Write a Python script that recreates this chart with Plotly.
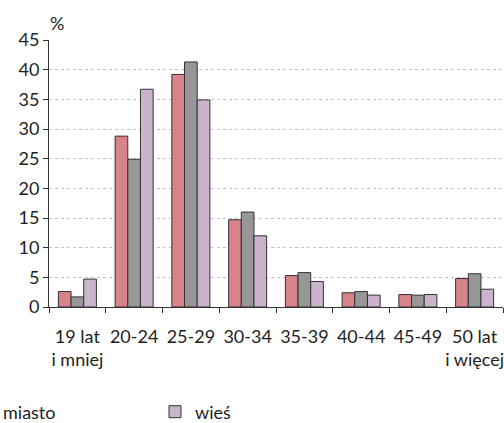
import plotly.graph_objects as go

categories = ["19 lat<br>i mniej", "20-24", "25-29", "30-34", "35-39", "40-44", "45-49", "50 lat<br>i więcej"]
series_names = ["ogółem", "miasto", "wieś"]
ogolem = [2.6, 28.8, 39.2, 14.7, 5.3, 2.4, 2.1, 4.8]
miasto = [1.7, 24.9, 41.3, 16.0, 5.8, 2.6, 2.0, 5.6]
wies = [4.7, 36.7, 34.9, 12.0, 4.3, 2.0, 2.1, 3.0]
y_ticks = [0, 5, 10, 15, 20, 25, 30, 35, 40, 45]

colors = ["#D8828A", "#979797", "#CCB3CD"]
legend_ids = ["legend", "legend2", "legend3"]
font = "Lato, 'Open Sans', sans-serif"
fs = 18

fig = go.Figure()
for name, vals, col, lg in zip(series_names, [ogolem, miasto, wies], colors, legend_ids):
    fig.add_trace(go.Bar(
        x=categories, y=vals, name=name, legend=lg,
        marker=dict(color=col, line=dict(color="#333333", width=1)),
    ))

PL, PW, PB, PH = 49, 454, 307, 267
def px_x(v):
    return (v - PL) / PW
def px_y(v):
    return (PB - v) / PH

leg_common = dict(orientation="h", xanchor="left", yanchor="middle", y=px_y(412),
                  font=dict(size=fs, family=font, color="#1E1E1E"),
                  bgcolor="rgba(0,0,0,0)")

fig.update_layout(
    width=504, height=423,
    margin=dict(l=PL, r=1, t=40, b=116, autoexpand=False),
    paper_bgcolor="white", plot_bgcolor="white",
    barmode="group", bargap=0.33, bargroupgap=0,
    font=dict(family=font, size=fs, color="#1E1E1E"),
    showlegend=True,
    legend=dict(x=px_x(-260), **leg_common),
    legend2=dict(x=px_x(-37), **leg_common),
    legend3=dict(x=px_x(155), **leg_common),
    annotations=[dict(text="%", x=px_x(57), y=px_y(23), xref="paper", yref="paper",
                      showarrow=False, xanchor="center", yanchor="middle",
                      font=dict(size=fs, family=font, color="#1E1E1E"))],
)

fig.update_xaxes(
    type="category", showline=True, linecolor="#333333", linewidth=1,
    ticks="outside", tickson="boundaries", ticklen=5, tickcolor="#333333",
    tickangle=0, ticklabelstandoff=13, showgrid=False,
    tickfont=dict(size=fs, family=font, color="#1E1E1E"),
)
fig.update_yaxes(
    range=[0, 45], tickvals=y_ticks, showline=True, linecolor="#333333", linewidth=1,
    ticks="outside", ticklen=5, tickcolor="#333333",
    showgrid=True, gridcolor="#C4C4C4", griddash="dot", gridwidth=1,
    zeroline=False, tickfont=dict(size=fs, family=font, color="#1E1E1E"),
)

fig.write_html("out.html", config={"displayModeBar": False},
               post_script="document.body.style.margin='0';")
